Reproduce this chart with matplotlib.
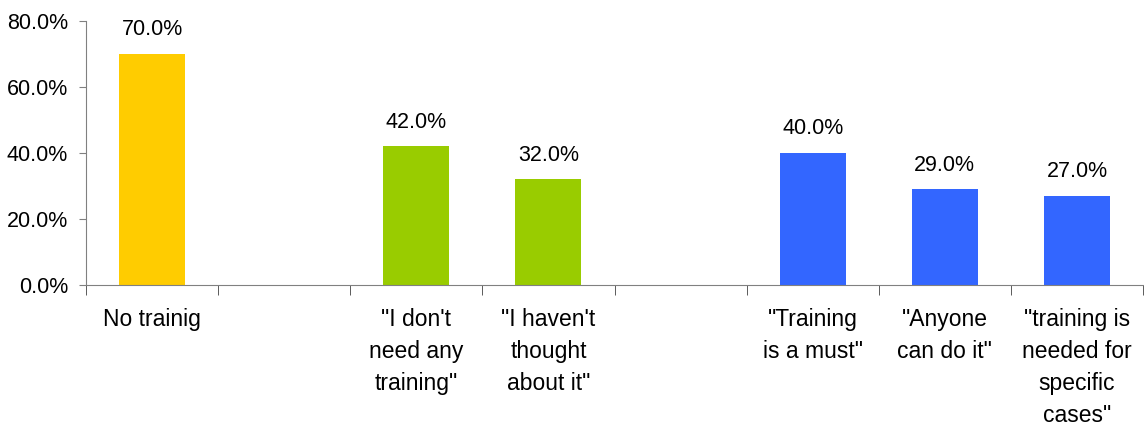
import numpy as np
import matplotlib.pyplot as plt
from matplotlib.ticker import FuncFormatter, FixedLocator

plt.rcParams['font.family'] = ['Liberation Sans', 'DejaVu Sans']

# slots on the x axis (empty strings are gaps between groups)
categories = ['No trainig', '', '"I don\'t\nneed any\ntraining"', '"I haven\'t\nthought\nabout it"', '',
              '"Training\nis a must"', '"Anyone\ncan do it"', '"training is\nneeded for\nspecific\ncases"']
values = [70.0, None, 42.0, 32.0, None, 40.0, 29.0, 27.0]
colors = ['#FFCC00', None, '#99CC00', '#99CC00', None, '#3366FF', '#3366FF', '#3366FF']

fig = plt.figure(figsize=(11.44, 4.28), dpi=100)
ax = fig.add_axes([86/1144, (428-285)/428, (1143-86)/1144, (285-21)/428])

x = np.arange(len(categories))
for i, v in enumerate(values):
    if v is None:
        continue
    ax.bar(x[i], v, width=0.5, color=colors[i], zorder=2)
    ax.annotate(f"{v:.1f}%", (x[i], v), xytext=(0, 13.5), textcoords='offset points',
                ha='center', va='baseline', fontsize=15.5)

ax.set_xlim(-0.5, len(categories) - 0.5)
ax.set_ylim(0, 80)
ax.set_yticks([0, 20, 40, 60, 80])
ax.yaxis.set_major_formatter(FuncFormatter(lambda v, p: f"{v:.1f}%"))
ax.tick_params(axis='y', labelsize=15.5, length=5, color='#808080', pad=8)

ax.set_xticks(x)
ax.set_xticklabels(categories, fontsize=16.5, linespacing=1.5, va='top')
ax.tick_params(axis='x', which='major', length=0, pad=16.5)
ax.xaxis.set_minor_locator(FixedLocator(np.arange(len(categories) + 1) - 0.5))
ax.tick_params(axis='x', which='minor', length=7, color='#404040', direction='out')

for s in ['top', 'right']:
    ax.spines[s].set_visible(False)
ax.spines['left'].set_color('#808080')
ax.spines['bottom'].set_color('#808080')

fig.savefig('out.png', dpi=100)
